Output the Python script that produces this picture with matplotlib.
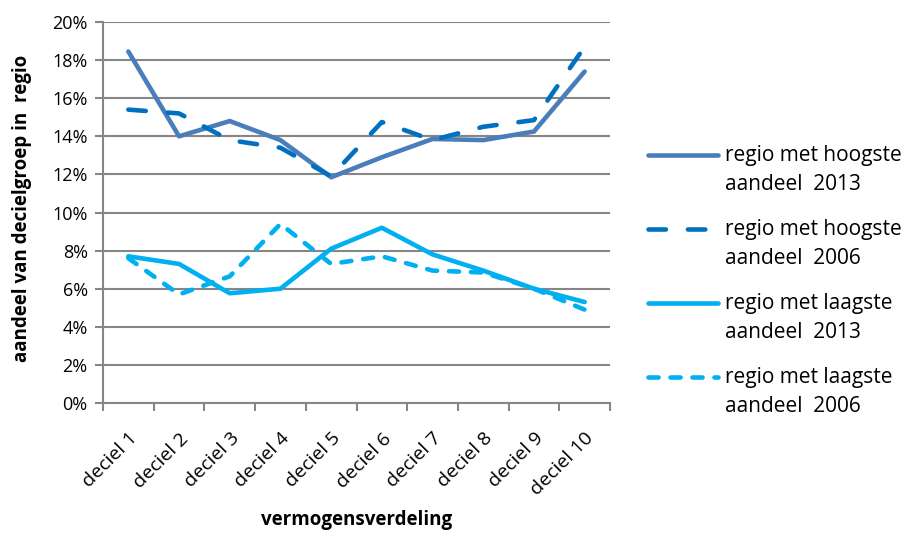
import numpy as np
import matplotlib
matplotlib.use("Agg")
from matplotlib import pyplot as plt
from matplotlib.lines import Line2D
from matplotlib.ticker import FixedLocator, PercentFormatter

plt.rcParams['font.family'] = ['Open Sans', 'DejaVu Sans']

# data (percent)
decielen = ["deciel 1", "deciel 2", "deciel 3", "deciel 4", "deciel 5",
            "deciel 6", "deciel 7", "deciel 8", "deciel 9", "deciel 10"]
hoog_2013 = [18.45, 14.0, 14.8, 13.8, 11.85, 12.9, 13.86, 13.8, 14.25, 17.4]
hoog_2006 = [15.4, 15.2, 13.8, 13.4, 11.9, 14.75, 13.8, 14.5, 14.85, 18.7]
laag_2013 = [7.7, 7.3, 5.76, 6.0, 8.1, 9.2, 7.8, 6.95, 6.0, 5.3]
laag_2006 = [7.6, 5.7, 6.65, 9.4, 7.3, 7.7, 6.95, 6.85, 6.0, 4.9]
labels = [("regio met hoogste", "aandeel  2013"), ("regio met hoogste", "aandeel  2006"),
          ("regio met laagste", "aandeel  2013"), ("regio met laagste", "aandeel  2006")]

grey = "#868686"
W, H = 907, 533
fig = plt.figure(figsize=(W / 100, H / 100), dpi=100)
ax = fig.add_axes([103/W, 130/H, 507/W, 381/H])

x = np.arange(len(decielen))
lw = 3.3
styles = [
    dict(color="#4a7ebb", solid_capstyle="round"),
    dict(color="#0070c0", dashes=(3.8, 4.8), dash_capstyle="round"),
    dict(color="#00b0f0", solid_capstyle="round"),
    dict(color="#00b0f0", dashes=(2.2, 2.6), dash_capstyle="round"),
]
for vals, st in zip([hoog_2013, hoog_2006, laag_2013, laag_2006], styles):
    ax.plot(x, vals, lw=lw, zorder=3, **st)

ax.set_xlim(-0.5, len(decielen) - 0.5)
ax.set_ylim(0, 20)
ax.set_yticks(np.arange(0, 21, 2))
ax.yaxis.set_major_formatter(PercentFormatter(decimals=0))
ax.grid(axis="y", color=grey, lw=1.5)
ax.set_axisbelow(True)

# category boundaries as ticks, labels at the centers
ax.xaxis.set_major_locator(FixedLocator(np.arange(-0.5, len(decielen), 1)))
ax.xaxis.set_major_formatter(plt.NullFormatter())
ax.xaxis.set_minor_locator(FixedLocator(x))
ax.set_xticklabels(decielen, minor=True, rotation=45, ha="right", rotation_mode="anchor", fontsize=14)
ax.tick_params(axis="x", which="minor", length=0, pad=19)
ax.tick_params(axis="x", which="major", length=6, width=1.5, color=grey)
ax.tick_params(axis="y", length=6, width=1.5, color=grey, labelsize=13, pad=5)

for s in ["top", "right"]:
    ax.spines[s].set_visible(False)
for s in ["left", "bottom"]:
    ax.spines[s].set_color(grey)
    ax.spines[s].set_linewidth(1.5)

fig.text(22/W, 1 - 208/H, "aandeel van decielgroep in  regio", rotation=90, ha="center", va="center",
         fontsize=13.5, fontweight="bold")
fig.text(357/W, 1 - 520/H, "vermogensverdeling", ha="center", va="center", fontsize=13.5, fontweight="bold")

# legend drawn by hand: handle next to the first line of a two-line label
leg_y = [155, 229, 303, 377]
for (l1, l2), st, yy in zip(labels, styles, leg_y):
    fig.add_artist(Line2D([648/W, 718/W], [1 - yy/H, 1 - yy/H], lw=lw, transform=fig.transFigure, **st))
    fig.text(725/W, 1 - yy/H, l1, ha="left", va="center", fontsize=15)
    fig.text(725/W, 1 - (yy + 29)/H, l2, ha="left", va="center", fontsize=15)

fig.savefig("out.png", dpi=100)
